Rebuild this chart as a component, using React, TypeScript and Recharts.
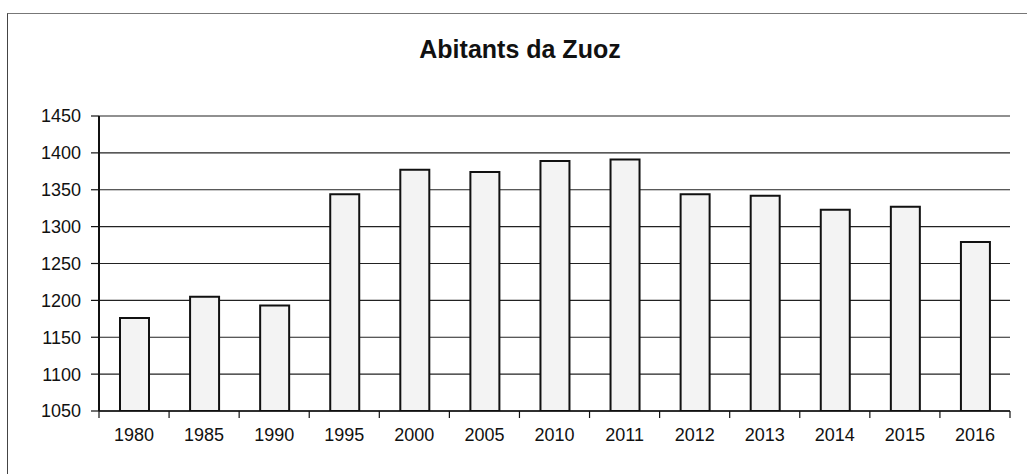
import React from "react";
import { BarChart, Bar, XAxis, YAxis, CartesianGrid } from "recharts";

const years = ["1980", "1985", "1990", "1995", "2000", "2005", "2010", "2011", "2012", "2013", "2014", "2015", "2016"];
const inhabitants = [1176, 1205, 1193, 1344, 1377, 1374, 1389, 1391, 1344, 1342, 1323, 1327, 1279];
const yTicks = [1050, 1100, 1150, 1200, 1250, 1300, 1350, 1400, 1450];
const title = "Abitants da Zuoz";

const data = years.map((y, i) => ({ year: y, value: inhabitants[i] }));

const W = 1027;
const H = 474;
const M = { top: 116, right: 17, bottom: 33, left: 0 };
const Y_W = 99;
const FONT = "'Liberation Sans', Arial, sans-serif";

const XTick = (props: any) => {
  const { x, y, payload, index } = props;
  const step = (W - M.left - Y_W - M.right) / years.length;
  const axisY = y - 17;
  const half = step / 2;
  return (
    <g>
      <line x1={x - half} x2={x - half} y1={axisY} y2={axisY + 7} stroke="#111" strokeWidth={1.2} />
      {index === years.length - 1 && (
        <line x1={x + half} x2={x + half} y1={axisY} y2={axisY + 7} stroke="#111" strokeWidth={1.2} />
      )}
      <text x={x} y={y} dy="0.71em" textAnchor="middle" fontSize={18} fontFamily={FONT} fill="#111">
        {payload.value}
      </text>
    </g>
  );
};

export default function App() {
  return (
    <div style={{ position: "fixed", left: 0, top: 0, width: W, height: H, background: "#fff" }}>
      <div
        style={{
          position: "absolute",
          left: 7,
          top: 13,
          width: W,
          height: H,
          borderLeft: "1.5px solid #444",
          borderTop: "1.5px solid #777",
        }}
      />
      <div
        style={{
          position: "absolute",
          left: 320,
          width: 400,
          top: 37,
          textAlign: "center",
          fontFamily: FONT,
          fontWeight: "bold",
          fontSize: 25,
          lineHeight: "25px",
          color: "#111",
        }}
      >
        {title}
      </div>
      <div style={{ position: "absolute", left: 0, top: 0 }}>
        <BarChart width={W} height={H} data={data} margin={M} barCategoryGap={0}>
          <CartesianGrid vertical={false} stroke="#222" strokeWidth={1.2} yAxisId="l" />
          <XAxis
            dataKey="year"
            tick={<XTick />}
            tickLine={false}
            tickSize={0}
            tickMargin={17}
            height={30}
            axisLine={{ stroke: "#111", strokeWidth: 1.5 }}
            interval={0}
          />
          <YAxis
            yAxisId="l"
            domain={[1050, 1450]}
            ticks={yTicks}
            width={Y_W}
            tickSize={8}
            tickMargin={10}
            allowDataOverflow
            axisLine={{ stroke: "#111", strokeWidth: 2 }}
            tickLine={{ stroke: "#111", strokeWidth: 1.2 }}
            tick={{ fontSize: 18, fontFamily: FONT, fill: "#111" }}
          />
          <YAxis
            yAxisId="r"
            orientation="right"
            domain={[1050, 1450]}
            ticks={yTicks}
            width={0}
            tick={false}
            tickLine={false}
            axisLine={{ stroke: "#222", strokeWidth: 1.5 }}
          />
          <Bar
            yAxisId="l"
            dataKey="value"
            barSize={29}
            fill="#f3f3f3"
            stroke="#111"
            strokeWidth={2}
            isAnimationActive={false}
          />
        </BarChart>
      </div>
    </div>
  );
}
